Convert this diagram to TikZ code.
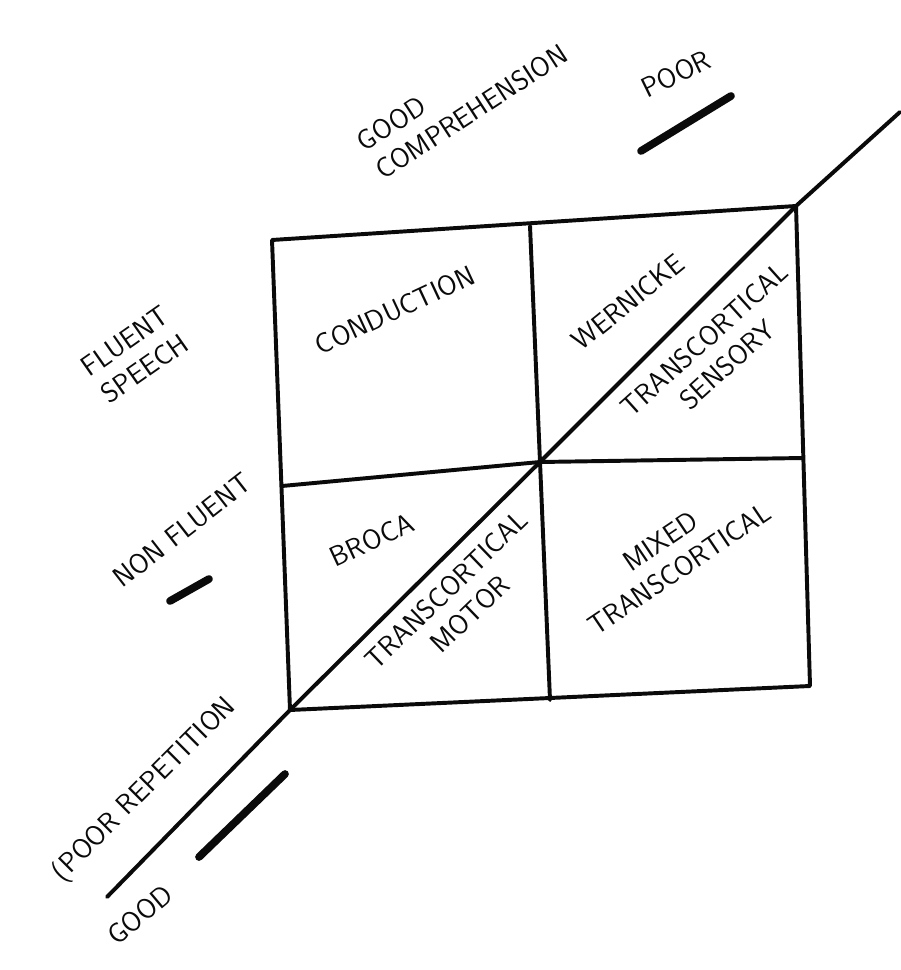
\documentclass[tikz,border=0pt]{standalone}
\usepackage{tikz}
\usetikzlibrary{calc,positioning}
\definecolor{InkBlack}{RGB}{10,10,10}

\begin{document}
\begin{tikzpicture}[x=0.025cm,y=-0.025cm,
    grid/.style={InkBlack,line width=2.8pt,line cap=round,line join=round},
    bar/.style={InkBlack,line width=5.5pt,line cap=round},
    lbl/.style={InkBlack,font=\sffamily\fontsize{20}{24}\selectfont,align=center,inner sep=1pt}]
        \useasboundingbox (0,0) rectangle (900,970);
        % corners and mid points of the square
        \coordinate (tl) at (272,240);
        \coordinate (tr) at (796,206);
        \coordinate (br) at (810,686);
        \coordinate (bl) at (290,710);
        \coordinate (ctr) at (540,462);
        \coordinate (tm) at (530,226);
        \coordinate (bm) at (550,700);
        \coordinate (lm) at (282,486);
        \coordinate (rm) at (803,458);
        \coordinate (diagA) at (107,897);
        \coordinate (diagB) at (900,112);
        \draw[grid] (tl)--(tr)--(br)--(bl)--cycle;
        \draw[grid] (lm)--(ctr)--(rm);
        \draw[grid] (tm)--(ctr)--(bm);
        \draw[grid] (diagA)--(bl)--(ctr)--(tr)--(diagB);
        % axis labels
        \node[lbl,rotate=33,align=left] (comp) at (462,98) {GOOD\\COMPREHENSION};
        \node[lbl,rotate=26] (poor) at (676,74) {POOR};
        \coordinate (poorA) at (641,151);
        \coordinate (poorB) at (731,96);
        \draw[bar] (poorA)--(poorB);
        \node[lbl,rotate=35] (fluent) at (135,355) {FLUENT\\SPEECH};
        \node[lbl,rotate=38] (nonfl) at (182,530) {NON FLUENT};
        \coordinate (nonA) at (170,601);
        \coordinate (nonB) at (209,579);
        \draw[bar] (nonA)--(nonB);
        \node[lbl,rotate=45] (rep) at (145,790) {(POOR REPETITION};
        \node[lbl,rotate=40] (good) at (140,915) {GOOD};
        \coordinate (goodA) at (199,857);
        \coordinate (goodB) at (285,774);
        \draw[bar] (goodA)--(goodB);
        % quadrants
        \node[lbl,rotate=25] (cond) at (395,310) {CONDUCTION};
        \node[lbl,rotate=39] (wern) at (628,302) {WERNICKE};
        \node[lbl,rotate=42] (tcs) at (716,352) {TRANSCORTICAL\\SENSORY};
        \node[lbl,rotate=25] (broca) at (372,540) {BROCA};
        \node[lbl,rotate=44] (tcm) at (458,602) {TRANSCORTICAL\\MOTOR};
        \node[lbl,rotate=34] (mixed) at (670,555) {MIXED\\TRANSCORTICAL};
\end{tikzpicture}
\end{document}
